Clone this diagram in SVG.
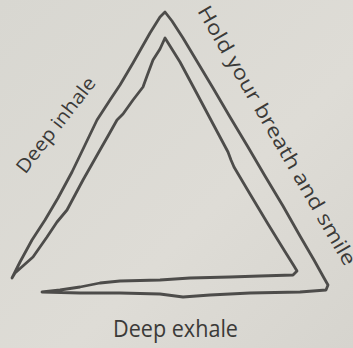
<svg xmlns="http://www.w3.org/2000/svg" width="353" height="348" viewBox="0 0 353 348">
  <defs>
    <linearGradient id="paper" x1="0" y1="0" x2="1" y2="1">
      <stop offset="0" stop-color="#d8d7d1"/>
      <stop offset="0.6" stop-color="#dedcd6"/>
      <stop offset="1" stop-color="#d6d4ce"/>
    </linearGradient>
  </defs>
  <style>
    .ink { fill: none; stroke: #4d4c4a; stroke-width: 2.8; stroke-linejoin: round; stroke-linecap: round; }
    .hand { font-family: "Open Sans", "Liberation Sans", sans-serif; fill: #3b3a38; font-weight: 400; }
  </style>
  <rect width="353" height="348" fill="url(#paper)"/>
  <g id="connectors">
    <path id="triangle" class="ink" d="M165,12 L172,21 L183,38 L198,63 L213,88 L230,117 L248,147 L265,176 L283,206 L300,236 L314,260 L324,278 L328,285 L326,290 L300,292 L250,293 L210,295 L183,297 L160,294 L120,293 L80,293 L42,292 L60,290 L80,287 L100,283 L120,281 L160,280 L190,278 L230,277 L260,276 L293,275 L297,271 L294,266 L284,250 L268,224 L250,194 L234,167 L231,160 L228,152 L212,122 L195,90 L180,62 L170,46 L165,38 L160,49 L153,60 L147,76 L143,87 L133,100 L123,114 L117,120 L108,136 L100,150 L83,180 L67,210 L57,222 L47,237 L33,257 L15,273 L12,278 L20,262 L32,240 L45,220 L58,198 L72,172 L85,145 L97,120 L110,100 L120,85 L133,63 L150,33 L160,17 Z"/>
  </g>
  <g id="label-inhale">
    <text class="hand" x="61" y="129" font-size="19" text-anchor="middle" textLength="116" lengthAdjust="spacingAndGlyphs" transform="rotate(-52 61 129)">Deep inhale</text>
  </g>
  <g id="label-hold">
    <text class="hand" x="271" y="139" font-size="20" text-anchor="middle" textLength="296" lengthAdjust="spacingAndGlyphs" transform="rotate(60 271 139)">Hold your breath and smile</text>
  </g>
  <g id="label-exhale">
    <text class="hand" x="113" y="337" font-size="24" textLength="125" lengthAdjust="spacingAndGlyphs">Deep exhale</text>
  </g>
</svg>
